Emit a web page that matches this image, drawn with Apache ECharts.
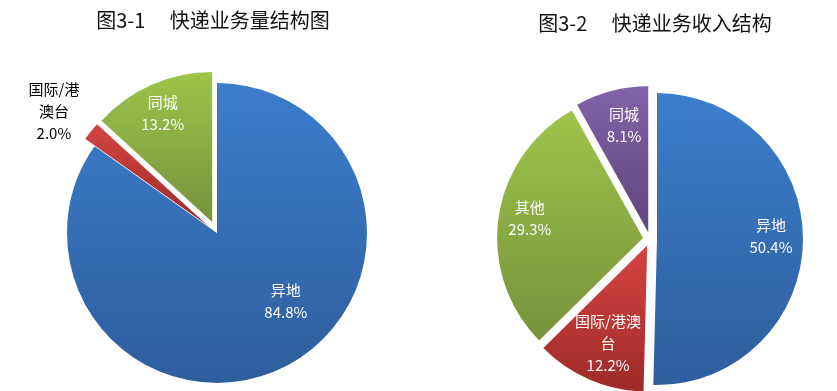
<!DOCTYPE html>
<html>
<head>
<meta charset="utf-8">
<script src="https://cdn.jsdelivr.net/npm/echarts@6/dist/echarts.min.js"></script>
<style>
html,body{margin:0;padding:0;background:#fff;}
#c{width:837px;height:391px;}
</style>
</head>
<body>
<div id="c"></div>
<script>
// ---- data ----
var title1 = '图3-1\u3000 快递业务量结构图';
var categories1 = ['异地', '国际/港澳台', '同城'];
var labelNames1 = ['异地', '国际/港\n澳台', '同城'];
var values1 = [84.8, 2.0, 13.2];

var title2 = '图3-2\u3000 快递业务收入结构';
var categories2 = ['异地', '国际/港澳台', '其他', '同城'];
var labelNames2 = ['异地', '国际/港澳\n台', '其他', '同城'];
var values2 = [50.4, 12.2, 29.3, 8.1];

// ---- styles ----
var grad = {
  blue:   ['#3c7dcc', '#2e5e9c'],
  red:    ['#d44442', '#9e2a29'],
  green:  ['#9dc44b', '#76923b'],
  purple: ['#8262aa', '#5f467b']
};
function lg(c) {
  return {type: 'linear', x: 0, y: 0, x2: 0, y2: 1,
    colorStops: [{offset: 0, color: c[0]}, {offset: 1, color: c[1]}]};
}
var colors1 = ['blue', 'red', 'green'];
var selected1 = [false, true, true];
var labelColor1 = ['#fff', '#000', '#fff'];
var labelOffset1 = [[33, -1], [-93, -65], [-18, -37]];

var colors2 = ['blue', 'red', 'green', 'purple'];
var labelOffset2 = [[38, -4], [-9, 28], [-38, -9], [-5, -33]];

var fontFam = '"Noto Sans CJK SC","Noto Sans",sans-serif';

function buildData(cats, vals, names, cols, sel, lcol, loff) {
  return cats.map(function (c, i) {
    var lab = {
      formatter: names[i] + '\n' + vals[i].toFixed(1) + '%',
      color: lcol ? lcol[i] : '#fff',
      offset: loff[i]
    };
    return {
      name: c,
      value: vals[i],
      selected: sel ? sel[i] : true,
      itemStyle: {color: lg(grad[cols[i]])},
      label: lab,
      select: {label: lab, itemStyle: {color: lg(grad[cols[i]])}}
    };
  });
}

var labelBase = {
  show: true,
  position: 'inside',
  fontFamily: fontFam,
  fontSize: 15,
  lineHeight: 22,
  align: 'center'
};

var chart = echarts.init(document.getElementById('c'), null, {renderer: 'canvas'});
chart.setOption({
  animation: false,
  title: [
    {text: title1, left: 208, top: 5, textAlign: 'center',
     textStyle: {fontFamily: fontFam, fontSize: 20, fontWeight: 'normal', color: '#111'}},
    {text: title2, left: 650, top: 8, textAlign: 'center',
     textStyle: {fontFamily: fontFam, fontSize: 20, fontWeight: 'normal', color: '#111'}}
  ],
  series: [
    {
      type: 'pie',
      center: [217, 233],
      radius: 150,
      startAngle: 90,
      clockwise: true,
      selectedMode: 'multiple',
      selectedOffset: 12,
      avoidLabelOverlap: false,
      silent: true,
      label: labelBase,
      labelLine: {show: false},
      emphasis: {disabled: true},
      itemStyle: {borderWidth: 0},
      data: buildData(categories1, values1, labelNames1, colors1, selected1, labelColor1, labelOffset1)
    },
    {
      type: 'pie',
      center: [650, 239],
      radius: 146,
      startAngle: 90,
      clockwise: true,
      selectedMode: 'multiple',
      selectedOffset: 7,
      avoidLabelOverlap: false,
      silent: true,
      label: labelBase,
      labelLine: {show: false},
      emphasis: {disabled: true},
      itemStyle: {borderWidth: 0},
      data: buildData(categories2, values2, labelNames2, colors2, null, null, labelOffset2)
    }
  ]
});
</script>
</body>
</html>
